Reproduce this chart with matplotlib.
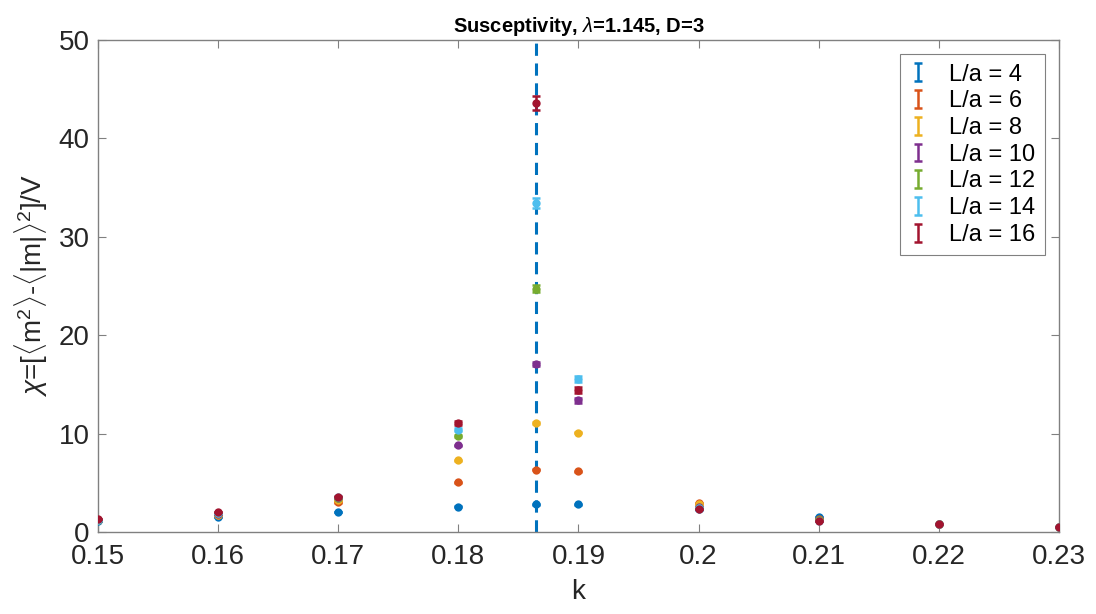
import numpy as np
import matplotlib.pyplot as plt
from matplotlib.legend_handler import HandlerErrorbar
from matplotlib.container import ErrorbarContainer

plt.rcParams['font.family'] = ['Liberation Sans', 'DejaVu Sans']
plt.rcParams['mathtext.fontset'] = 'custom'
plt.rcParams['mathtext.rm'] = 'Liberation Sans'
plt.rcParams['mathtext.it'] = 'Liberation Sans:italic'

k = [0.15, 0.16, 0.17, 0.18, 0.1865, 0.19, 0.20, 0.21, 0.22, 0.23]
k_crit = 0.18645

labels = ['L/a = 4', 'L/a = 6', 'L/a = 8', 'L/a = 10', 'L/a = 12', 'L/a = 14', 'L/a = 16']
colors = ['#0072BD', '#D95319', '#EDB120', '#7E2F8E', '#77AC30', '#4DBEEE', '#A2142F']

nan = np.nan
chi_L4 = [1.15, 1.5, 2.03, 2.57, 2.8, 2.8, 2.3, 1.5, 0.8, 0.54]
chi_L6 = [1.2, 1.7, 3.0, 5.05, 6.3, 6.17, 2.9, 1.3, 0.8, 0.54]
chi_L8 = [1.2, 1.75, 3.2, 7.3, 11.05, 10.1, 2.8, 1.25, 0.8, 0.54]
chi_L10 = [1.25, 1.85, 3.45, 8.8, 17.1, 13.4, 2.5, 1.2, 0.8, 0.54]
chi_L12 = [1.25, 1.9, 3.5, 9.76, 24.7, nan, 2.45, 1.2, 0.8, 0.54]
chi_L14 = [1.25, 1.95, 3.55, 10.4, 33.4, 15.5, 2.4, 1.15, 0.8, 0.54]
chi_L16 = [1.29, 2.0, 3.6, 11.1, 43.6, 14.4, 2.35, 1.15, 0.81, 0.54]

err_L4 = [0.01, 0.01, 0.02, 0.02, 0.03, 0.02, 0.02, 0.01, 0.01, 0.01]
err_L6 = [0.01, 0.02, 0.03, 0.04, 0.05, 0.04, 0.02, 0.01, 0.01, 0.01]
err_L8 = [0.01, 0.02, 0.03, 0.05, 0.08, 0.06, 0.02, 0.01, 0.01, 0.01]
err_L10 = [0.01, 0.02, 0.03, 0.06, 0.2, 0.25, 0.02, 0.01, 0.01, 0.01]
err_L12 = [0.01, 0.02, 0.03, 0.08, 0.35, nan, 0.02, 0.01, 0.01, 0.01]
err_L14 = [0.01, 0.02, 0.03, 0.15, 0.5, 0.3, 0.02, 0.01, 0.01, 0.01]
err_L16 = [0.01, 0.02, 0.05, 0.2, 0.7, 0.3, 0.02, 0.01, 0.01, 0.01]

chis = [chi_L4, chi_L6, chi_L8, chi_L10, chi_L12, chi_L14, chi_L16]
errs = [err_L4, err_L6, err_L8, err_L10, err_L12, err_L14, err_L16]

fig = plt.figure(figsize=(10.96, 6.14), dpi=100)
ax = fig.add_axes([0.0894, 0.1336, 0.8768, 0.8013])

ax.axvline(k_crit, color='#0072BD', lw=2.2, ls=(0, (4, 2.5)), zorder=1)

handles = []
for chi, err, c, lab in zip(chis, errs, colors, labels):
    h = ax.errorbar(k, chi, yerr=err, fmt='none', ecolor=c, elinewidth=1.8,
                    capsize=3, capthick=1.8, label=lab, zorder=3)
    ax.plot(k, chi, 'o', color=c, ms=6, mec='none', zorder=3)
    handles.append(h)

ax.set_xlim(0.15, 0.23)
ax.set_ylim(0, 50)
ax.set_xticks([0.15, 0.16, 0.17, 0.18, 0.19, 0.2, 0.21, 0.22, 0.23])
ax.set_xticklabels(['0.15', '0.16', '0.17', '0.18', '0.19', '0.2', '0.21', '0.22', '0.23'])
ax.set_yticks([0, 10, 20, 30, 40, 50])

for s in ax.spines.values():
    s.set_color('#808080')
    s.set_linewidth(1)
ax.tick_params(direction='in', length=6, width=0.8, color='#808080',
               labelsize=20, labelcolor='#262626', top=True, right=True)
ax.tick_params(axis='x', pad=9)
ax.tick_params(axis='y', pad=6)

ax.set_xlabel('k', fontsize=20, color='#262626', labelpad=6)
ax.set_ylabel(r'$\chi$=[$\langle$m$^2\rangle$-$\langle$|m|$\rangle^2$]/V',
              fontsize=20, color='#262626', labelpad=6)
ax.set_title(r'Susceptivity, $\lambda$=1.145, D=3', fontsize=14.5,
             fontweight='bold', pad=6)

leg = ax.legend(handles=handles, loc='upper right', fontsize=17,
                fancybox=False, edgecolor='#808080', framealpha=1,
                borderaxespad=0.6, handlelength=0.8, handletextpad=0.9,
                labelspacing=0.2, borderpad=0.4,
                handler_map={ErrorbarContainer: HandlerErrorbar(yerr_size=0.38)})
leg.get_frame().set_linewidth(0.8)

fig.savefig('out.png', dpi=100)
